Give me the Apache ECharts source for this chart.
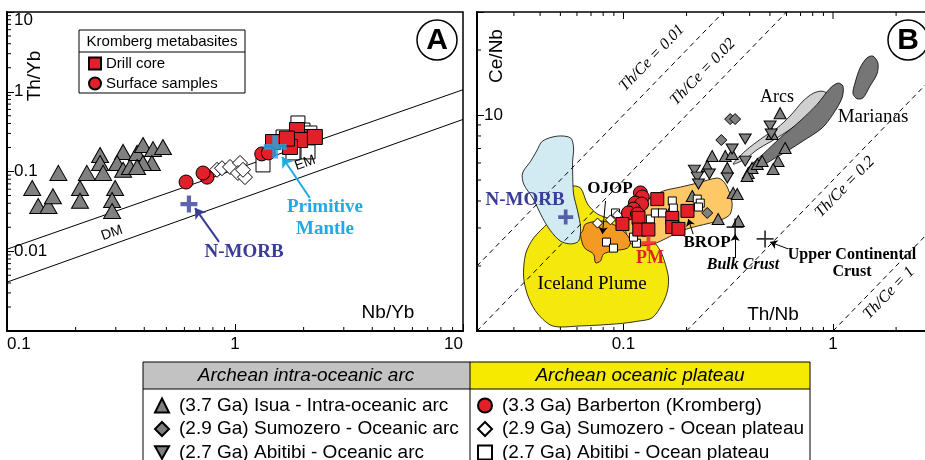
<!DOCTYPE html>
<html>
<head>
<meta charset="utf-8">
<title>Th/Yb vs Nb/Yb and Ce/Nb vs Th/Nb</title>
<script src="https://cdn.jsdelivr.net/npm/echarts@6/dist/echarts.min.js"></script>
<style>
  html, body { margin: 0; padding: 0; background: #fff; }
  #chart { width: 925px; height: 460px; }
</style>
</head>
<body>
<div id="chart"></div>
<script>
// tick labels that are printed
const aXLabels = ['0.1', '1', '10'];
const aYLabels = ['0.01', '0.1', '1', '10'];
const bXLabels = ['0.1', '1'];
const bYLabels = ['10'];

// minor tick values
const aMinorX = [0.2, 0.3, 0.4, 0.5, 0.6, 0.7, 0.8, 0.9, 2, 3, 4, 5, 6, 7, 8, 9];
const aMinorY = [0.002, 0.003, 0.004, 0.005, 0.006, 0.007, 0.008, 0.009,
  0.02, 0.03, 0.04, 0.05, 0.06, 0.07, 0.08, 0.09,
  0.2, 0.3, 0.4, 0.5, 0.6, 0.7, 0.8, 0.9, 2, 3, 4, 5, 6, 7, 8, 9];
const bMinorX = [0.03, 0.04, 0.05, 0.06, 0.07, 0.08, 0.09, 0.2, 0.3, 0.4, 0.5, 0.6, 0.7, 0.8, 0.9, 2];
const bMajorX = [0.1, 1];
const bMinorY = [2, 3, 4, 5, 6, 7, 8, 9, 20];

// axis ranges
const aX = [0.1, 10], aY = [0.001, 10];
const bX = [0.02, 3], bY = [1, 30];

// legend names
const NAME_ISUA = '(3.7 Ga) Isua - Intra-oceanic arc';
const NAME_SUMO_ARC = '(2.9 Ga) Sumozero - Oceanic arc';
const NAME_ABI_ARC = '(2.7 Ga) Abitibi - Oceanic arc';
const NAME_BARB = '(3.3 Ga) Barberton (Kromberg)';
const NAME_SUMO_PLAT = '(2.9 Ga) Sumozero - Ocean plateau';
const NAME_ABI_PLAT = '(2.7 Ga) Abitibi - Ocean plateau';

// ---- panel A: Th/Yb vs Nb/Yb ----
const isuaA = [[0.129, 0.062], [0.168, 0.096], [0.137, 0.037], [0.152, 0.037], [0.159, 0.049],
  [0.209, 0.062], [0.209, 0.043], [0.224, 0.096], [0.256, 0.161], [0.256, 0.128], [0.264, 0.096],
  [0.298, 0.062], [0.289, 0.044], [0.289, 0.032], [0.323, 0.176], [0.304, 0.128], [0.323, 0.105],
  [0.346, 0.114], [0.372, 0.171], [0.395, 0.215], [0.437, 0.191], [0.483, 0.203], [0.432, 0.128],
  [0.395, 0.128], [0.372, 0.114]];
const surfaceA = [[0.61, 0.0738], [0.754, 0.085], [0.724, 0.0957], [1.31, 0.166], [1.40, 0.171]];
const sumoPlatA = [[0.834, 0.105], [0.877, 0.11], [0.951, 0.114], [1.052, 0.128], [1.03, 0.0957],
  [1.106, 0.085], [1.084, 0.105]];
const abiPlatA = [[1.327, 0.121], [2.09, 0.176], [1.796, 0.171], [1.888, 0.406], [1.742, 0.248],
  [1.986, 0.331], [2.13, 0.304], [1.625, 0.271]];
const drillA = [[1.468, 0.234], [2.13, 0.271], [1.87, 0.331], [1.93, 0.248], [1.742, 0.203],
  [2.24, 0.271], [1.69, 0.259]];
const nmorbA = [[0.628, 0.039]];
const pmA = [[1.5, 0.203]];
const arrayUpper = [[0.1, 0.0106], [10, 1.06]];
const arrayLower = [[0.1, 0.0041], [10, 0.45]];
const arrowNmorbA = [[0.851, 0.0131], [0.668, 0.0348]];
const arrowPmA = [[2.13, 0.0466], [1.61, 0.152]];

// ---- panel B: Ce/Nb vs Th/Nb ----
const isuaB = [[0.559, 10.2], [0.512, 8.17], [0.591, 7.04], [0.265, 6.46], [0.306, 6.46], [0.330, 6.60],
  [0.251, 5.81], [0.313, 5.69], [0.547, 6.12], [0.518, 5.62], [0.394, 5.39], [0.411, 5.69],
  [0.435, 5.93], [0.459, 6.12], [0.389, 5.22], [0.334, 4.36], [0.349, 4.31], [0.213, 4.22],
  [0.171, 3.71], [0.283, 3.30], [0.353, 3.23]];
const sumoArcB = [[0.323, 9.58], [0.341, 9.58], [0.293, 7.66], [0.251, 3.52]];
const abiArcB = [[0.501, 8.89], [0.507, 8.17], [0.381, 7.74], [0.218, 5.56], [0.225, 5.16],
  [0.257, 5.33], [0.313, 5.11], [0.381, 6.12], [0.228, 4.79], [0.330, 6.96]];
const barbB = [[0.1205, 4.36], [0.123, 4.17], [0.114, 3.91], [0.122, 3.87], [0.1116, 3.67],
  [0.1056, 3.52], [0.1166, 3.48]];
const drillB = [[0.0989, 3.13], [0.118, 3.34], [0.119, 2.95], [0.1315, 2.95], [0.145, 4.08],
  [0.171, 3.34], [0.171, 3.03], [0.183, 2.97], [0.202, 3.60]];
const abiPlatB = [[0.0916, 3.52], [0.1344, 3.30], [0.142, 3.52], [0.1534, 3.52], [0.171, 4.0],
  [0.173, 3.71], [0.225, 4.08], [0.2325, 3.91], [0.228, 3.75], [0.083, 2.58], [0.0896, 2.42],
  [0.1153, 2.55], [0.1116, 2.72]];
const sumoPlatB = [[0.0752, 3.16], [0.0867, 3.27], [0.0936, 3.44]];
const nmorbB = [[0.053, 3.37]];
const pmB = [[0.1316, 2.55]];
const bulkCrust = [[0.341, 3.03]];
const upperCrust = [[0.474, 2.67]];
const thCe001 = [[0.02, 2], [0.3, 30]];
const thCe002 = [[0.02, 1], [0.6, 30]];
const thCe02 = [[0.2, 1], [3, 15]];
const thCe1 = [[1, 1], [3, 3]];
const arrowOjop = [[0.0821, 4.0], [0.0794, 2.81]];
const arrowBrop = [[0.215, 2.81], [0.204, 3.30]];
const arrowBulk = [[0.341, 2.18], [0.341, 2.81]];
const arrowUcc = [[0.610, 2.40], [0.501, 2.58]];

// fields
const icelandField = [[0.056, 4.69], [0.0624, 4.59], [0.0674, 3.87], [0.0752, 3.48], [0.0867, 3.30],
  [0.0968, 3.16], [0.112, 2.90], [0.134, 2.70], [0.150, 2.35], [0.1585, 2.04], [0.164, 1.76],
  [0.162, 1.53], [0.153, 1.33], [0.137, 1.15], [0.117, 1.11], [0.094, 1.08], [0.062, 1.055],
  [0.046, 1.055], [0.039, 1.20], [0.0353, 1.42], [0.0334, 1.76], [0.0341, 2.27], [0.0373, 2.70],
  [0.0435, 3.16], [0.0485, 3.71], [0.0518, 4.45]];
const nmorbField = [[0.0411, 7.58], [0.0485, 7.99], [0.056, 7.83], [0.0578, 7.04], [0.0572, 6.12],
  [0.0572, 5.51], [0.0578, 4.31], [0.0604, 3.60], [0.0624, 3.00], [0.0611, 2.61], [0.056, 2.53],
  [0.050, 2.61], [0.0449, 2.91], [0.0411, 3.34], [0.0369, 4.13], [0.0334, 4.79], [0.033, 5.39],
  [0.0361, 6.12], [0.0385, 6.81]];
const ojopField = [[0.0638, 2.90], [0.0659, 3.13], [0.0777, 3.23], [0.0867, 3.16], [0.1, 2.90],
  [0.108, 2.61], [0.1045, 2.42], [0.0896, 2.35], [0.0803, 2.27], [0.0777, 2.11], [0.0736, 2.07],
  [0.072, 2.27], [0.0659, 2.40], [0.0638, 2.53], [0.0624, 2.81]];
const bropField = [[0.1022, 3.06], [0.114, 3.59], [0.1315, 4.08], [0.155, 4.45], [0.187, 4.64],
  [0.225, 4.84], [0.28, 5.11], [0.299, 4.95], [0.316, 4.54], [0.33, 3.91], [0.323, 3.48],
  [0.299, 3.30], [0.259, 3.16], [0.225, 3.06], [0.187, 2.90], [0.162, 2.70], [0.139, 2.53],
  [0.1205, 2.48], [0.108, 2.55]];
const arcsField = [[0.334, 5.93], [0.381, 6.81], [0.459, 7.83], [0.541, 8.71], [0.624, 9.9],
  [0.719, 11.6], [0.803, 12.6], [0.887, 12.9], [0.946, 12.4], [0.821, 10.4], [0.659, 8.89],
  [0.529, 7.74], [0.439, 6.96], [0.381, 6.26]];
const marianasField = [[0.394, 5.69], [0.464, 6.60], [0.559, 7.83], [0.696, 9.38], [0.839, 11.2],
  [0.968, 13.3], [1.057, 14.06], [1.116, 13.6], [1.104, 12.0], [1.0, 10.1], [0.887, 8.71],
  [0.719, 7.58], [0.604, 6.81], [0.501, 6.12], [0.435, 5.62], [0.403, 5.51]];
const marianasField2 = [[1.273, 14.06], [1.345, 16.5], [1.452, 18.4], [1.55, 18.75], [1.638, 17.4],
  [1.621, 15.5], [1.5, 13.6], [1.39, 12.0], [1.301, 11.9], [1.245, 12.6]];

const RED = '#e3202a';
const GRAY = '#808080';
const PLUS = 'path://M3,0H5V3H8V5H5V8H3V5H0V3H3Z';
const THIN_PLUS = 'path://M3.6,0H4.4V3.6H8V4.4H4.4V8H3.6V4.4H0V3.6H3.6Z';
const DOWN = 'path://M0,0H10L5,9Z';
const SANS = 'Liberation Sans';
const SERIF = '"Liberation Serif"';

function fmtNum(v) {
  return v >= 1 ? String(Math.round(v)) : String(Number(v.toPrecision(1)));
}
function labelFmt(list) {
  return function (v) {
    const s = fmtNum(v);
    return list.indexOf(s) >= 0 ? s : '';
  };
}

function logAxis(gridIndex, range, labels, isY) {
  const ax = {
    type: 'log', logBase: 10, gridIndex: gridIndex, min: range[0], max: range[1],
    axisLine: { show: true, onZero: false, lineStyle: { color: '#000', width: 2 } },
    axisTick: { show: true, inside: true, length: 7, lineStyle: { color: '#000', width: 1 } },
    splitLine: { show: false },
    axisLabel: {
      formatter: labelFmt(labels), fontSize: 17, color: '#000', fontFamily: SANS,
      showMinLabel: true, showMaxLabel: true, hideOverlap: false
    }
  };
  if (isY) {
    ax.axisLabel.inside = true;
    ax.axisLabel.margin = 7;
    ax.axisLabel.verticalAlignMaxLabel = 'top';
  } else {
    ax.axisLabel.margin = 5;
    ax.axisLabel.alignMinLabel = 'left';
    ax.axisLabel.alignMaxLabel = 'right';
  }
  return ax;
}

function scatter(name, data, gi, symbol, size, fill, z, extra) {
  const s = {
    type: 'scatter', name: name, xAxisIndex: gi, yAxisIndex: gi, data: data,
    symbol: symbol, symbolSize: size, z: z || 4, silent: true,
    itemStyle: { color: fill, borderColor: '#000', borderWidth: 1, opacity: 1 }
  };
  return Object.assign(s, extra || {});
}

function cross(data, gi, symbol, size, color, arrows, arrowWidth) {
  const s = {
    type: 'scatter', xAxisIndex: gi, yAxisIndex: gi, data: data, symbol: symbol,
    symbolSize: size, z: 6, silent: true, itemStyle: { color: color, borderWidth: 0 }
  };
  if (arrows) {
    s.markLine = {
      silent: true, symbol: ['none', 'arrow'], symbolSize: arrowWidth > 1 ? 10 : 7,
      label: { show: false },
      lineStyle: { color: color, width: arrowWidth, type: 'solid' },
      data: arrows.map(a => [{ coord: a[0] }, { coord: a[1] }])
    };
  }
  return s;
}

function refLine(data, gi, dashed) {
  return {
    type: 'line', xAxisIndex: gi, yAxisIndex: gi, data: data, showSymbol: false, symbol: 'none',
    z: 3, silent: true,
    lineStyle: { color: '#000', width: 1, type: dashed ? [5, 4] : 'solid' }
  };
}

function field(points, fill, z) {
  return {
    type: 'custom', xAxisIndex: 1, yAxisIndex: 1, z: z, silent: true, data: [points[0]],
    renderItem: function (params, api) {
      return {
        type: 'polygon',
        shape: { points: points.map(p => api.coord(p)), smooth: 0.3 },
        style: { fill: fill, stroke: '#000', lineWidth: 0.8 }
      };
    }
  };
}

function ticks(points, gi, dx, dy) {
  return {
    type: 'custom', xAxisIndex: gi, yAxisIndex: gi, z: 7, silent: true, data: points,
    renderItem: function (params, api) {
      const p = api.coord([api.value(0), api.value(1)]);
      return {
        type: 'line',
        shape: { x1: p[0], y1: p[1], x2: p[0] + dx, y2: p[1] + dy },
        style: { stroke: '#000', lineWidth: 1 }
      };
    }
  };
}

function txt(x, y, text, font, fill, rot, extra) {
  return Object.assign({
    type: 'text', x: x, y: y, rotation: rot || 0, z: 100, silent: true,
    style: { text: text, font: font, fill: fill || '#000', align: 'center', verticalAlign: 'middle' }
  }, extra || {});
}

const chart = echarts.init(document.getElementById('chart'), null, { renderer: 'canvas' });

const gridBase = {
  show: true, borderColor: '#000', borderWidth: 1.5, backgroundColor: 'transparent',
  containLabel: false, outerBoundsMode: 'none'
};

const legendText = { fontSize: 19, lineHeight: 19, fontFamily: SANS, color: '#000', padding: [0, 0, 0, 5] };

const option = {
  animation: false,
  backgroundColor: '#fff',
  grid: [
    Object.assign({ left: 7, top: 12, width: 456, height: 319 }, gridBase),
    Object.assign({ left: 477, top: 12, width: 456, height: 319 }, gridBase)
  ],
  xAxis: [logAxis(0, aX, aXLabels, false), logAxis(1, bX, bXLabels, false)],
  yAxis: [logAxis(0, aY, aYLabels, true), logAxis(1, bY, bYLabels, true)],
  legend: [
    {
      left: 88, top: 56, height: 60, orient: 'vertical', itemWidth: 12, itemHeight: 12, itemGap: 5,
      padding: 0, selectedMode: false, z: 10,
      textStyle: { fontSize: 15, lineHeight: 15, fontFamily: SANS, color: '#000' },
      data: [{ name: 'Drill core', icon: 'rect' }, { name: 'Surface samples', icon: 'circle' }]
    },
    {
      left: 154, top: 396, height: 120, orient: 'vertical', itemWidth: 14, itemHeight: 14, itemGap: 4.5,
      padding: 0, selectedMode: false, z: 10, textStyle: legendText,
      data: [{ name: NAME_ISUA, icon: 'triangle' }, { name: NAME_SUMO_ARC, icon: 'diamond' },
        { name: NAME_ABI_ARC, icon: DOWN }]
    },
    {
      left: 477, top: 396, height: 120, orient: 'vertical', itemWidth: 14, itemHeight: 14, itemGap: 4.5,
      padding: 0, selectedMode: false, z: 10, textStyle: legendText,
      data: [{ name: NAME_BARB, icon: 'circle' }, { name: NAME_SUMO_PLAT, icon: 'diamond' },
        { name: NAME_ABI_PLAT, icon: 'rect' }]
    }
  ],
  series: [
    // panel A
    refLine(arrayUpper, 0, false),
    refLine(arrayLower, 0, false),
    scatter(NAME_ISUA, isuaA, 0, 'triangle', [17, 15], GRAY),
    scatter(NAME_SUMO_PLAT, sumoPlatA, 0, 'diamond', 15, '#fff'),
    scatter(NAME_ABI_PLAT, abiPlatA, 0, 'rect', 14, '#fff'),
    scatter('Drill core', drillA, 0, 'rect', 15, RED, 5),
    scatter('Surface samples', surfaceA, 0, 'circle', 14, RED, 5),
    cross(nmorbA, 0, PLUS, 17, '#3a3c97', [arrowNmorbA], 2),
    cross(pmA, 0, PLUS, 23, '#1eaae7', [arrowPmA], 2),
    ticks(aMinorX.map(v => [v, aY[0]]), 0, 0, -4),
    ticks(aMinorY.map(v => [aX[0], v]), 0, 4, 0),

    // panel B
    field(icelandField, '#f5e80c', 1),
    field(bropField, '#fdc865', 1.1),
    field(nmorbField, '#d2ebf2', 1.2),
    field(ojopField, '#f39a22', 1.3),
    field(arcsField, '#d0d0d0', 1.4),
    field(marianasField, '#767676', 1.5),
    field(marianasField2, '#767676', 1.5),
    refLine(thCe001, 1, true),
    refLine(thCe002, 1, true),
    refLine(thCe02, 1, true),
    refLine(thCe1, 1, true),
    scatter(NAME_ISUA, isuaB, 1, 'triangle', [12, 11], GRAY),
    scatter(NAME_SUMO_ARC, sumoArcB, 1, 'diamond', 11, GRAY),
    scatter(NAME_ABI_ARC, abiArcB, 1, DOWN, [12, 10], GRAY),
    scatter(NAME_ABI_PLAT, abiPlatB, 1, 'rect', 8, '#fff'),
    scatter(NAME_SUMO_PLAT, sumoPlatB, 1, 'diamond', 10, '#fff'),
    scatter(NAME_BARB, barbB, 1, 'circle', 14, RED, 5),
    scatter('Drill core', drillB, 1, 'rect', 13, RED, 5),
    cross(nmorbB, 1, PLUS, 15, '#3a3c97'),
    cross(pmB, 1, PLUS, 15, RED),
    cross(bulkCrust, 1, THIN_PLUS, 17, '#000', [arrowBulk], 1),
    cross(upperCrust, 1, THIN_PLUS, 17, '#000', [arrowUcc], 1),
    cross([[0.5, 1]], 1, 'none', 0, '#000', [arrowOjop, arrowBrop], 1),
    ticks(bMinorX.map(v => [v, bY[0]]), 1, 0, -4),
    ticks(bMinorX.map(v => [v, bY[1]]), 1, 0, 4),
    ticks(bMajorX.map(v => [v, bY[1]]), 1, 0, 7),
    ticks(bMinorY.map(v => [bX[0], v]), 1, 4, 0)
  ],
  graphic: [
    // panel A legend box
    { type: 'rect', z: 1, silent: true, shape: { x: 79, y: 30, width: 166, height: 63 },
      style: { fill: '#fff', stroke: '#000', lineWidth: 1 } },
    { type: 'line', z: 1, silent: true, shape: { x1: 79, y1: 52, x2: 245, y2: 52 },
      style: { stroke: '#000', lineWidth: 1 } },
    txt(162, 41.5, 'Kromberg metabasites', '15px ' + SANS),
    // panel letters
    { type: 'circle', z: 99, silent: true, shape: { cx: 437, cy: 40, r: 20 },
      style: { fill: '#fff', stroke: '#000', lineWidth: 1.5 } },
    txt(437, 41, 'A', 'bold 30px ' + SANS),
    { type: 'circle', z: 99, silent: true, shape: { cx: 908, cy: 40, r: 20 },
      style: { fill: '#fff', stroke: '#000', lineWidth: 1.5 } },
    txt(908, 41, 'B', 'bold 30px ' + SANS),
    // axis titles
    txt(35, 76, 'Th/Yb', '19px ' + SANS, '#000', Math.PI / 2),
    txt(388, 313, 'Nb/Yb', '19px ' + SANS),
    txt(497, 56, 'Ce/Nb', '19px ' + SANS, '#000', Math.PI / 2),
    txt(773, 315, 'Th/Nb', '19px ' + SANS),
    // panel A annotations
    txt(112, 233, 'DM', '14px ' + SANS, '#000', 0.34),
    txt(305, 163, 'EM', '14px ' + SANS, '#000', 0.34),
    txt(244, 252, 'N-MORB', 'bold 19px ' + SERIF, '#3a3c97'),
    txt(325, 207, 'Primitive', 'bold 19px ' + SERIF, '#1eaae7'),
    txt(325, 229, 'Mantle', 'bold 19px ' + SERIF, '#1eaae7'),
    // panel B annotations
    txt(525, 200, 'N-MORB', 'bold 19px ' + SERIF, '#3a3c97'),
    txt(610, 189, 'OJOP', 'bold 17px ' + SERIF),
    txt(707, 243, 'BROP', 'bold 17px ' + SERIF),
    txt(650, 258, 'PM', 'bold 18px ' + SERIF, RED),
    txt(743, 265, 'Bulk Crust', 'italic bold 16px ' + SERIF),
    txt(852, 255, 'Upper Continental', 'bold 16px ' + SERIF),
    txt(852, 272, 'Crust', 'bold 16px ' + SERIF),
    txt(592, 284, 'Iceland Plume', '19px ' + SERIF),
    txt(777, 97, 'Arcs', '18px ' + SERIF),
    txt(873, 117, 'Marianas', '19px ' + SERIF),
    txt(652, 58, 'Th/Ce = 0.01', 'italic 16px ' + SERIF, '#000', 0.8),
    txt(703, 72, 'Th/Ce = 0.02', 'italic 16px ' + SERIF, '#000', 0.8),
    txt(845, 187, 'Th/Ce = 0.2', 'italic 16px ' + SERIF, '#000', 0.8),
    txt(889, 293, 'Th/Ce = 1', 'italic 16px ' + SERIF, '#000', 0.8),
    // legend table
    { type: 'rect', z: 1, silent: true, shape: { x: 143, y: 362, width: 327, height: 27 },
      style: { fill: '#c2c2c2' } },
    { type: 'rect', z: 1, silent: true, shape: { x: 470, y: 362, width: 340, height: 27 },
      style: { fill: '#f5ea00' } },
    { type: 'rect', z: 2, silent: true, shape: { x: 143, y: 362, width: 667, height: 110 },
      style: { fill: 'none', stroke: '#000', lineWidth: 1 } },
    { type: 'line', z: 2, silent: true, shape: { x1: 143, y1: 389, x2: 810, y2: 389 },
      style: { stroke: '#000', lineWidth: 1 } },
    { type: 'line', z: 2, silent: true, shape: { x1: 470, y1: 362, x2: 470, y2: 470 },
      style: { stroke: '#000', lineWidth: 1 } },
    txt(306, 376, 'Archean intra-oceanic arc', 'italic 19px ' + SANS),
    txt(640, 376, 'Archean oceanic plateau', 'italic 19px ' + SANS)
  ]
};

chart.setOption(option);
</script>
</body>
</html>
